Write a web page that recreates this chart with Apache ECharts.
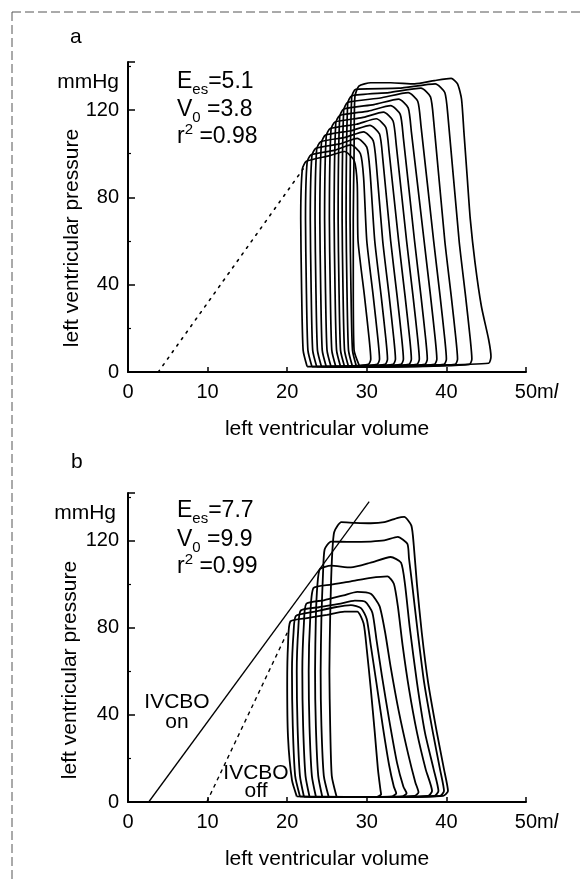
<!DOCTYPE html>
<html>
<head>
<meta charset="utf-8">
<script src="https://cdn.jsdelivr.net/npm/echarts@6.0.0/dist/echarts.min.js"></script>
<style>
html, body { margin: 0; background: #fff; }
#chart { width: 580px; height: 880px; }
</style>
</head>
<body>
<div id="chart"></div>
<script>
// axes
var volumeTicks = [0, 10, 20, 30, 40, 50];
var pressureTicks = [0, 40, 80, 120];
var pressureMax = 142;

// panel a: pressure-volume loops [volume ml, pressure mmHg]
var loopA1 = [[22.5,2.5],[26.2,2.5],[30.2,3.5],[30.5,6],[30.3,15],[29.7,35],[28.9,60],[28.8,86],[28.4,97],[27.2,101],[25.2,99],[22.4,96.5],[21.9,93],[21.7,70],[21.8,40],[22.0,10],[22.5,2.5]];
var loopA2 = [[23.1,2.5],[27,2.5],[31.3,3.5],[31.6,6],[31.4,15],[30.8,35],[30,60],[29.6,89],[29.2,100],[28,104],[25.9,101.5],[23,99.5],[22.5,96],[22.3,70],[22.4,40],[22.6,10],[23.1,2.5]];
var loopA3 = [[23.7,2.5],[27.9,2.5],[32.3,3.5],[32.6,6],[32.4,15],[31.8,35],[31,60],[30.4,92],[30,103],[28.8,107],[26.6,104.5],[23.6,102.5],[23.1,99],[22.9,70],[23,40],[23.2,10],[23.7,2.5]];
var loopA4 = [[24.3,2.5],[28.7,2.5],[33.3,3.5],[33.6,6],[33.4,15],[32.8,35],[32,60],[31.2,95],[30.8,106],[29.6,110],[27.3,107.5],[24.2,105.5],[23.7,102],[23.5,70],[23.6,40],[23.8,10],[24.3,2.5]];
var loopA5 = [[24.9,2.5],[29.5,2.5],[34.3,3.5],[34.6,6],[34.4,15],[33.8,35],[33,60],[32,98],[31.6,109],[30.4,113],[28,110.5],[24.8,108.5],[24.3,105],[24.1,70],[24.2,40],[24.4,10],[24.9,2.5]];
var loopA6 = [[25.5,2.5],[30.3,2.5],[35.3,3.5],[35.6,6],[35.4,15],[34.8,35],[34,60],[32.8,101],[32.4,112],[31.2,116],[28.7,113.5],[25.4,111.5],[24.9,108],[24.7,70],[24.8,40],[25,10],[25.5,2.5]];
var loopA7 = [[26.1,2.5],[31,2.5],[36.3,3.5],[36.6,6],[36.4,15],[35.8,35],[35,60],[33.7,104],[33.3,115],[32.1,119],[29.4,116.5],[26,114.5],[25.5,111],[25.3,70],[25.4,40],[25.6,10],[26.1,2.5]];
var loopA8 = [[26.7,2.5],[31.9,2.5],[37.3,3.5],[37.6,6],[37.4,15],[36.8,35],[36,60],[34.6,107],[34.2,118],[33,122],[30.2,119.5],[26.6,117.5],[26.1,114],[25.9,70],[26,40],[26.2,10],[26.7,2.5]];
var loopA9 = [[27.2,2.5],[32.7,2.5],[38.5,3.5],[38.8,6],[38.6,15],[38,35],[37.2,60],[35.6,110],[35.2,121],[34,125],[30.9,122.5],[27.1,120.5],[26.6,117],[26.4,70],[26.5,40],[26.7,10],[27.2,2.5]];
var loopA10 = [[27.7,2.5],[33.5,2.5],[39.7,3.5],[40,6],[39.8,15],[39.2,35],[38.4,60],[36.8,113],[36.4,124],[35.2,128],[31.7,125.5],[27.6,123.5],[27.1,120],[26.9,70],[27,40],[27.2,10],[27.7,2.5]];
var loopA11 = [[28.2,2.5],[34.8,2.5],[41.1,3.5],[41.4,6],[41.2,15],[40.6,35],[39.8,60],[38.4,115],[38,126],[36.8,130],[32.8,128],[28.1,126.5],[27.6,123],[27.4,70],[27.5,40],[27.7,10],[28.2,2.5]];
var loopA12 = [[28.7,2.5],[35.9,2.5],[42.9,3.5],[43.2,6],[43,15],[42.4,35],[41.6,60],[40.2,117],[39.8,128],[38.6,132],[34,130],[28.6,129.5],[28.1,126],[27.9,70],[28,40],[28.2,10],[28.7,2.5]];
var loopA13 = [[29.1,2.5],[37,3],[45.3,4],[45.6,7],[45.3,15],[44.4,30],[43.6,50],[43,70],[42.6,90],[42.2,110],[41.9,125],[41.4,132],[40.6,134.5],[38.5,133.5],[36,132],[33,132.5],[30.5,132.5],[29,131],[28.5,126],[28.4,100],[28.3,70],[28.3,40],[28.4,10],[29.1,2.5]];
var espvrA = [[3.8, 0], [22, 93]];

// panel b
var loopB1 = [[26.2,2.5],[33,2.3],[39.6,2.8],[40.2,5],[39.7,15],[38.8,32],[37.7,55],[36.9,78],[36.3,100],[35.9,118],[35.6,127],[34.7,131],[33.9,130.6],[32.2,128.6],[30.5,128.1],[28.5,128.3],[26.8,128.6],[25.9,124],[25.6,110],[25.4,85],[25.3,60],[25.4,35],[25.6,12],[26.2,2.5]];
var loopB2 = [[25.2,2.5],[32.5,2.3],[39.2,2.8],[39.7,5],[39.2,15],[38.3,32],[37.2,55],[36.4,78],[35.7,100],[35.3,112],[35.1,118.6],[33.9,121.8],[32.2,120.2],[30.5,119.7],[28,119.5],[25.5,119.7],[24.7,116],[24.5,105],[24.3,85],[24.2,60],[24.3,35],[24.6,12],[25.2,2.5]];
var loopB3 = [[24.4,2.5],[31.5,2.3],[38.5,2.8],[39,5],[38.4,15],[37.3,32],[36.3,55],[35.4,80],[34.8,100],[34.3,110],[33,112.6],[30.5,110],[28,107.8],[25.5,108.6],[24.1,107],[23.8,100],[23.6,85],[23.5,60],[23.6,35],[23.9,12],[24.4,2.5]];
var loopB4 = [[23.6,2.5],[30.5,2.3],[37.7,2.8],[38.2,5],[37.4,15],[36.3,32],[35.3,52],[34.5,72],[33.9,90],[33.4,100.3],[32.6,103.7],[30.5,103],[28,101.4],[25.5,99.9],[23.3,98.3],[22.9,85],[22.7,60],[22.8,35],[23.1,12],[23.6,2.5]];
var loopB5 = [[22.8,2.5],[29,2.3],[36,2.8],[36.5,4.5],[36.1,9],[35.2,22],[34,42],[33,62],[32.3,78],[31.6,90],[30.5,95.7],[28.8,96.6],[27.1,95],[24.6,92.7],[22.4,91.1],[22.1,82],[21.9,60],[22,35],[22.3,12],[22.8,2.5]];
var loopB6 = [[22.1,2.5],[28,2.3],[34.5,2.6],[35,4],[34.6,7],[33.8,18],[32.8,38],[31.9,58],[31.2,75],[30.7,87],[29.8,92],[28.5,92.5],[26.5,91],[24,89.5],[21.7,88],[21.4,80],[21.2,60],[21.3,35],[21.6,12],[22.1,2.5]];
var loopB7 = [[21.6,2.6],[27.3,2.3],[33.2,2.6],[33.7,4],[33.4,7],[32.8,17],[32,35],[31.2,55],[30.5,72],[30,84],[29.3,89],[28,90.5],[26,89.5],[23.5,87.5],[21.1,85.5],[20.8,78],[20.6,60],[20.7,35],[21,12],[21.6,2.6]];
var loopB8 = [[21.2,2.6],[26,2.2],[31.3,2.4],[31.8,3.5],[31.7,6],[31.4,15],[31,32],[30.5,52],[30,70],[29.6,82],[28.8,87.5],[27.2,87.5],[25,86],[22.5,84.5],[20.4,83],[20.1,72],[20,55],[20.1,30],[20.6,10],[21.2,2.6]];
var ivcboOn = [[2.6, 0], [30.3, 138]];
var ivcboOff = [[9.9, 0], [20, 77.8]];

var loopsA = [loopA1, loopA2, loopA3, loopA4, loopA5, loopA6, loopA7, loopA8, loopA9, loopA10, loopA11, loopA12, loopA13];
var loopsB = [loopB1, loopB2, loopB3, loopB4, loopB5, loopB6, loopB7, loopB8];

var FONT = '"Liberation Sans", Arial, sans-serif';
var myChart = echarts.init(document.getElementById('chart'), null, { renderer: 'canvas' });

function xAxisFor(i) {
    return {
        gridIndex: i, type: 'value',
        min: volumeTicks[0], max: volumeTicks[volumeTicks.length - 1],
        interval: volumeTicks[1] - volumeTicks[0],
        name: 'left ventricular volume', nameLocation: 'middle', nameGap: 47,
        nameTextStyle: { color: '#000', fontSize: 21, fontFamily: FONT },
        axisLine: { lineStyle: { color: '#000', width: 2 } },
        axisTick: { inside: true, length: 5, lineStyle: { color: '#000', width: 1.5 } },
        splitLine: { show: false },
        axisLabel: {
            color: '#000', fontSize: 20, fontFamily: FONT, margin: 10,
            formatter: function (v) {
                return v === 50 ? '{pad| }50{u|m}{it|l}' : String(v);
            },
            rich: {
                pad: { width: 21, fontSize: 20, fontFamily: FONT },
                u: { fontSize: 20, fontFamily: FONT, color: '#000' },
                it: { fontSize: 20, fontFamily: FONT, color: '#000', fontStyle: 'italic' }
            }
        }
    };
}
function yAxisFor(i) {
    return {
        gridIndex: i, type: 'value',
        min: pressureTicks[0], max: pressureMax,
        interval: pressureTicks[1] - pressureTicks[0],
        axisLine: { lineStyle: { color: '#000', width: 2 } },
        axisTick: { inside: true, length: 7, lineStyle: { color: '#000', width: 1.5 } },
        minorTick: { show: true, splitNumber: 2, length: 3, lineStyle: { color: '#000', width: 1.2 } },
        splitLine: { show: false },
        minorSplitLine: { show: false },
        axisLabel: { color: '#000', fontSize: 20, fontFamily: FONT, margin: 9, showMaxLabel: false }
    };
}

var series = [];
loopsA.forEach(function (d) {
    series.push({ type: 'line', xAxisIndex: 0, yAxisIndex: 0, data: d, showSymbol: false, smooth: 0.2,
        lineStyle: { color: '#000', width: 1.7 }, z: 3 });
});
loopsB.forEach(function (d) {
    series.push({ type: 'line', xAxisIndex: 1, yAxisIndex: 1, data: d, showSymbol: false, smooth: 0.2,
        lineStyle: { color: '#000', width: 1.8 }, z: 3 });
});
series.push({ type: 'line', xAxisIndex: 0, yAxisIndex: 0, data: espvrA, showSymbol: false,
    lineStyle: { color: '#000', width: 1.6, type: [2, 6], cap: 'round' } });
series.push({ type: 'line', xAxisIndex: 1, yAxisIndex: 1, data: ivcboOn, showSymbol: false,
    lineStyle: { color: '#000', width: 1.3 } });
series.push({ type: 'line', xAxisIndex: 1, yAxisIndex: 1, data: ivcboOff, showSymbol: false,
    lineStyle: { color: '#000', width: 1.4, type: [4, 4] } });

function txt(x, y, text, size, extra) {
    var st = { text: text, fill: '#000', font: size + 'px ' + FONT,
        align: 'left', textAlign: 'left', verticalAlign: 'middle', textVerticalAlign: 'middle' };
    for (var k in extra) st[k] = extra[k];
    return { type: 'text', x: x, y: y, style: st, z: 10 };
}
var richAnn = {
    n: { fontSize: 23, fontFamily: FONT, fill: '#000', color: '#000', lineHeight: 30 },
    s: { fontSize: 15, fontFamily: FONT, fill: '#000', color: '#000', lineHeight: 14, verticalAlign: 'bottom' },
    p: { fontSize: 15, fontFamily: FONT, fill: '#000', color: '#000', lineHeight: 14, verticalAlign: 'top' }
};
function ann(x, y, text) {
    return { type: 'text', x: x, y: y, z: 10,
        style: { text: text, rich: richAnn, align: 'left', textAlign: 'left', verticalAlign: 'middle', textVerticalAlign: 'middle' } };
}
function yName(x, y) {
    return { type: 'text', x: x, y: y, rotation: Math.PI / 2, z: 10,
        style: { text: 'left ventricular pressure', fill: '#000', font: '21px ' + FONT,
            align: 'center', textAlign: 'center', verticalAlign: 'middle', textVerticalAlign: 'middle' } };
}

var option = {
    animation: false,
    backgroundColor: '#fff',
    grid: [
        { left: 128, top: 62, width: 398, height: 310 },
        { left: 128, top: 493, width: 398, height: 309 }
    ],
    xAxis: [xAxisFor(0), xAxisFor(1)],
    yAxis: [yAxisFor(0), yAxisFor(1)],
    series: series,
    graphic: [
        { type: 'line', shape: { x1: 12, y1: 12, x2: 580, y2: 12 }, style: { stroke: '#555', lineWidth: 1, lineDash: [9, 4] } },
        { type: 'line', shape: { x1: 12, y1: 12, x2: 12, y2: 880 }, style: { stroke: '#555', lineWidth: 1, lineDash: [9, 4] } },
        txt(70, 37, 'a', 21),
        txt(71, 462, 'b', 21),
        txt(119, 82, 'mmHg', 21, { align: 'right', textAlign: 'right' }),
        txt(116, 513, 'mmHg', 21, { align: 'right', textAlign: 'right' }),
        yName(72, 238),
        yName(70, 670),
        ann(177, 82, '{n|E}{s|es}{n|=5.1}'),
        ann(177, 110, '{n|V}{s|0}{n| =3.8}'),
        ann(177, 137, '{n|r}{p|2}{n| =0.98}'),
        ann(177, 511, '{n|E}{s|es}{n|=7.7}'),
        ann(177, 540, '{n|V}{s|0}{n| =9.9}'),
        ann(177, 567, '{n|r}{p|2}{n| =0.99}'),
        { type: 'text', x: 177, y: 712, z: 10, style: { text: 'IVCBO\non', fill: '#000', font: '21px ' + FONT, lineHeight: 20,
            align: 'center', textAlign: 'center', verticalAlign: 'middle', textVerticalAlign: 'middle' } },
        { type: 'text', x: 256, y: 782, z: 10, style: { text: 'IVCBO\noff', fill: '#000', font: '21px ' + FONT, lineHeight: 18,
            align: 'center', textAlign: 'center', verticalAlign: 'middle', textVerticalAlign: 'middle' } }
    ]
};
myChart.setOption(option);
window.addEventListener('resize', function () {
    myChart.resize();
});
</script>
</body>
</html>
